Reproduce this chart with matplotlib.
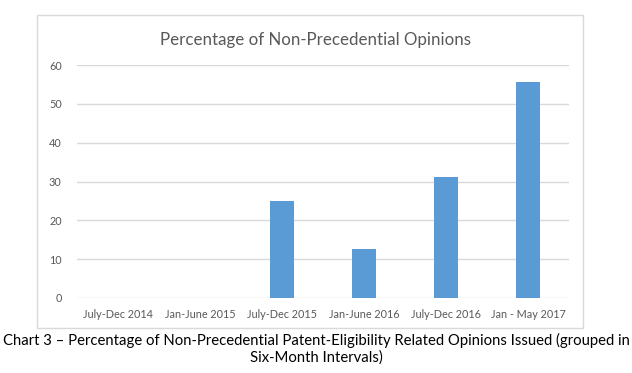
import matplotlib
matplotlib.use("Agg")
import matplotlib.pyplot as plt
from matplotlib.patches import Rectangle

categories = ["July-Dec 2014", "Jan-June 2015", "July-Dec 2015", "Jan-June 2016", "July-Dec 2016", "Jan - May 2017"]
values = [0, 0, 25.0, 12.5, 31.25, 55.6]
yticks = [0, 10, 20, 30, 40, 50, 60]

plt.rcParams['font.family'] = ['Lato', 'DejaVu Sans']

W, H = 632, 373
fig = plt.figure(figsize=(W/100, H/100), dpi=100)

# chart border
fig.patches.append(Rectangle((37/W, 1-328/H), (583-37)/W, (328-15)/H, transform=fig.transFigure,
                             fill=False, edgecolor='#d9d9d9', linewidth=1.0))

ax = fig.add_axes([77/W, 1-298/H, (569-77)/W, (298-65)/H])
x = list(range(len(categories)))
ax.bar(x, values, width=0.3, color='#5b9bd5', linewidth=0, zorder=3)
ax.set_xlim(-0.5, len(categories)-0.5)
ax.set_ylim(0, 60)
ax.set_yticks(yticks)
ax.set_yticklabels([str(v) for v in yticks])
ax.set_xticks(x)
ax.set_xticklabels(categories)
ax.grid(axis='y', color='#d9d9d9', linewidth=1.0, zorder=0)
for s in ax.spines.values():
    s.set_visible(False)
ax.tick_params(axis='both', length=0, labelsize=7.8, colors='#595959', pad=8)
ax.tick_params(axis='y', pad=11)

fig.text(0.5, 1-40/H, "Percentage of Non-Precedential Opinions", ha='center', va='center',
         fontsize=12.2, color='#595959')
fig.text(0.5, 1-340/H, "Chart 3 \u2013 Percentage of Non-Precedential Patent-Eligibility Related Opinions Issued (grouped in",
         ha='center', va='center', fontsize=10.7, color='black')
fig.text(0.5, 1-358/H, "Six-Month Intervals)", ha='center', va='center', fontsize=10.7, color='black')

fig.savefig("out.png", dpi=100)
